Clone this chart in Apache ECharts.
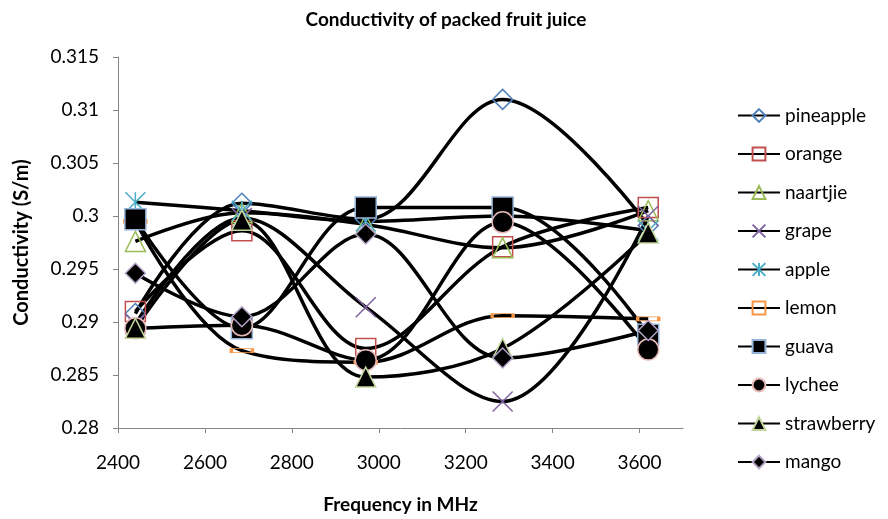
<!DOCTYPE html>
<html lang="en">
<head>
  <meta charset="UTF-8" />
  <title>Conductivity of packed fruit juice</title>
  <script src="https://cdn.jsdelivr.net/npm/echarts@6.0.0/dist/echarts.min.js"></script>
</head>
<body style="margin:0">
  <div id="main" style="width: 888px; height: 519px;"></div>
  <script>
    // frequencies (MHz) and conductivity (S/m) per juice
    const freqs = [2440, 2685, 2970, 3285, 3620];
    const pineapple = [0.2908, 0.3012, 0.2997, 0.3110, 0.2991];
    const orange = [0.2910, 0.2986, 0.2875, 0.2971, 0.3008];
    const naartjie = [0.2976, 0.3003, 0.2992, 0.2970, 0.3005];
    const grape = [0.2898, 0.2998, 0.2914, 0.2825, 0.3000];
    const apple = [0.3013, 0.3005, 0.2995, 0.3000, 0.2986];
    const lemon = [0.2995, 0.2873, 0.2862, 0.2906, 0.2903];
    const guava = [0.2997, 0.2894, 0.3008, 0.3008, 0.2888];
    const lychee = [0.2894, 0.2897, 0.2864, 0.2994, 0.2874];
    const strawberry = [0.2894, 0.2996, 0.2848, 0.2875, 0.2984];
    const mango = [0.2946, 0.2905, 0.2983, 0.2866, 0.2892];
    const xTicks = [2400, 2600, 2800, 3000, 3200, 3400, 3600];

    const X_PATH = "path://M0,0L10,10M10,0L0,10";
    const STAR_PATH = "path://M5,0L5,10M0,0L10,10M10,0L0,10";

    const seriesDefs = [
      { name: "pineapple", data: pineapple, symbol: "diamond", size: 20, fill: "none", border: "#4f81bd" },
      { name: "orange", data: orange, symbol: "rect", size: 20, fill: "none", border: "#c0504d" },
      { name: "naartjie", data: naartjie, symbol: "triangle", size: 20, fill: "none", border: "#9bbb59" },
      { name: "grape", data: grape, symbol: X_PATH, size: 20, fill: "none", border: "#8064a2" },
      { name: "apple", data: apple, symbol: STAR_PATH, size: 20, fill: "none", border: "#4bacc6" },
      { name: "lemon", data: lemon, symbol: "rect", size: [21, 4], fill: "none", border: "#f79646" },
      { name: "guava", data: guava, symbol: "rect", size: 21, fill: "#000", border: "#95b3d7" },
      { name: "lychee", data: lychee, symbol: "circle", size: 21, fill: "#000", border: "#e6b9b8" },
      { name: "strawberry", data: strawberry, symbol: "triangle", size: 20, fill: "#000", border: "#c3d69b" },
      { name: "mango", data: mango, symbol: "diamond", size: 20, fill: "#000", border: "#b3a2c7" },
    ];

    const font = "Lato";
    const chart = echarts.init(document.getElementById("main"));
    chart.setOption({
      animation: false,
      title: {
        text: "Conductivity of packed fruit juice",
        left: 441,
        textAlign: "center",
        top: 5,
        textStyle: { fontFamily: font, fontSize: 19, fontWeight: "bold", color: "#000" },
      },
      grid: { left: 118, right: 205, top: 57, bottom: 89 },
      legend: {
        orient: "vertical",
        left: 737,
        top: 106,
        padding: 0,
        itemWidth: 42,
        itemHeight: 16,
        itemGap: 19.5,
        textStyle: { fontFamily: font, fontSize: 19, lineHeight: 16, color: "#000" },
        data: seriesDefs.map((s) => s.name),
      },
      xAxis: {
        type: "value",
        min: 2400,
        max: 3700,
        interval: 200,
        name: "Frequency in MHz",
        nameLocation: "middle",
        nameGap: 67,
        nameTextStyle: { fontFamily: font, fontSize: 19, fontWeight: "bold", color: "#000" },
        axisLine: { lineStyle: { color: "#868686" } },
        axisTick: { show: true, length: 5, customValues: xTicks, lineStyle: { color: "#868686" } },
        axisLabel: {
          customValues: xTicks,
          margin: 25,
          fontFamily: font,
          fontSize: 19,
          color: "#000",
          formatter: (v) => String(v),
        },
        splitLine: { show: false },
      },
      yAxis: {
        type: "value",
        min: 0.28,
        max: 0.315,
        interval: 0.005,
        name: "Conductivity (S/m)",
        nameLocation: "middle",
        nameGap: 86,
        nameTextStyle: { fontFamily: font, fontSize: 20, fontWeight: "bold", color: "#000" },
        axisLine: { show: true, lineStyle: { color: "#868686" } },
        axisTick: { show: true, length: 5, lineStyle: { color: "#868686" } },
        axisLabel: { margin: 19, fontFamily: font, fontSize: 19, color: "#000" },
        splitLine: { show: false },
      },
      series: seriesDefs.map((s) => ({
        name: s.name,
        type: "line",
        smooth: 0.35,
        data: freqs.map((f, i) => [f, s.data[i]]),
        symbol: s.symbol,
        symbolSize: s.size,
        lineStyle: { color: "#000", width: 3.5 },
        itemStyle: { color: s.fill, borderColor: s.border, borderWidth: 1.5 },
        emphasis: { disabled: true },
      })),
    });
  </script>
</body>
</html>
